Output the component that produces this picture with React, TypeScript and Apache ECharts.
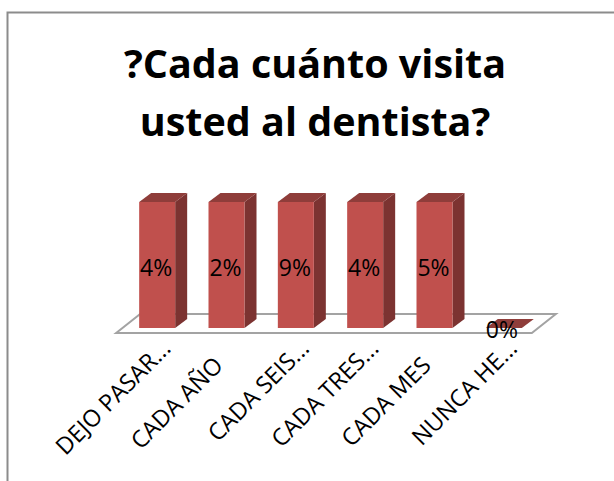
import React, { useEffect, useRef } from "react";
import * as echarts from "echarts";

const titleLines = ["?Cada cuánto visita", "usted al dentista?"];
const categories = ["DEJO PASAR...", "CADA AÑO", "CADA SEIS...", "CADA TRES...", "CADA MES", "NUNCA HE..."];
const barValues = [100, 100, 100, 100, 100, 0];
const dataLabels = ["4%", "2%", "9%", "4%", "5%", "0%"];

const FRONT = "#c0504d";
const TOP = "#8f3d3a";
const SIDE = "#7c3331";
const DX = 12;
const DY = 9;
const FONT = "'Open Sans', sans-serif";

export default function App() {
  const ref = useRef<HTMLDivElement>(null);
  useEffect(() => {
    const chart = echarts.init(ref.current!, undefined, { renderer: "svg" });
    chart.setOption({
      animation: false,
      backgroundColor: "#ffffff",
      title: {
        text: titleLines.join("\n"),
        left: 310,
        top: 29,
        textAlign: "center",
        textStyle: { fontFamily: FONT, fontSize: 39.5, fontWeight: "bold", color: "#000", lineHeight: 58 },
      },
      graphic: [
        {
          type: "rect",
          silent: true,
          z: -1,
          shape: { x: 7.5, y: 12.5, width: 700, height: 600 },
          style: { fill: "none", stroke: "#8c8c8c", lineWidth: 2 },
        },
      ],
      grid: { left: 122.5, top: 202, width: 416, height: 126 },
      xAxis: {
        type: "category",
        data: categories.map((c) => ({
          value: c,
          textStyle: { verticalAlign: "top", padding: [0, c.endsWith("...") ? 0 : 24, 0, 0] },
        })),
        axisLine: { show: false },
        axisTick: { show: false },
        axisLabel: {
          interval: 0,
          rotate: 45,
          margin: 7,
          verticalAlign: "top",
          fontFamily: FONT,
          fontSize: 23.5,
          color: "#000",
        },
      },
      yAxis: { type: "value", min: 0, max: 100, show: false, splitLine: { show: false } },
      series: [
        {
          type: "custom",
          z: 1,
          silent: true,
          data: [0],
          encode: { x: -1, y: -1 },
          renderItem: (_p: any, api: any) => {
            const left = api.coord([0, 0])[0] - 41;
            const right = api.coord([5, 0])[0] + 28;
            const y = api.coord([0, 0])[1];
            const pts = [
              [left, y + 5],
              [right, y + 5],
              [right + 24, y - 14],
              [left + 24, y - 14],
            ];
            return {
              type: "polygon",
              shape: { points: pts },
              style: { fill: "#fff", stroke: "#a3a3a3", lineWidth: 2 },
            };
          },
        },
        {
          type: "custom",
          z: 2,
          silent: true,
          data: barValues.map((v, i) => [i, v]),
          encode: { x: 0, y: 1 },
          renderItem: (_p: any, api: any) => {
            const base = api.coord([api.value(0), 0]);
            const top = api.coord([api.value(0), api.value(1)]);
            const hw = 18;
            const x0 = base[0] - hw;
            const x1 = base[0] + hw;
            const yb = base[1];
            const yt = top[1];
            return {
              type: "group",
              children: [
                {
                  type: "polygon",
                  shape: { points: [[x1, yt], [x1 + DX, yt - DY], [x1 + DX, yb - DY], [x1, yb]] },
                  style: { fill: SIDE },
                },
                {
                  type: "polygon",
                  shape: { points: [[x0, yt], [x0 + DX, yt - DY], [x1 + DX, yt - DY], [x1, yt]] },
                  style: { fill: TOP },
                },
                {
                  type: "rect",
                  shape: { x: x0, y: yt, width: x1 - x0, height: yb - yt },
                  style: { fill: FRONT },
                },
              ],
            };
          },
        },
        {
          type: "custom",
          z: 3,
          silent: true,
          data: barValues.map((v, i) => [i, v]),
          encode: { x: 0, y: 1 },
          renderItem: (_p: any, api: any) => {
            const i = api.value(0);
            const v = api.value(1);
            const base = api.coord([i, 0]);
            const mid = api.coord([i, v / 2]);
            const zero = v === 0;
            return {
              type: "text",
              x: base[0] - (zero ? 2 : 1),
              y: zero ? base[1] + 1 : mid[1] + 2,
              style: {
                text: dataLabels[i],
                fontFamily: FONT,
                fontSize: 23,
                fill: "#000",
                align: "center",
                verticalAlign: "middle",
              },
            };
          },
        },
      ],
    });
    return () => chart.dispose();
  }, []);
  return <div ref={ref} style={{ position: "fixed", left: 0, top: 0, width: 614, height: 481 }} />;
}
